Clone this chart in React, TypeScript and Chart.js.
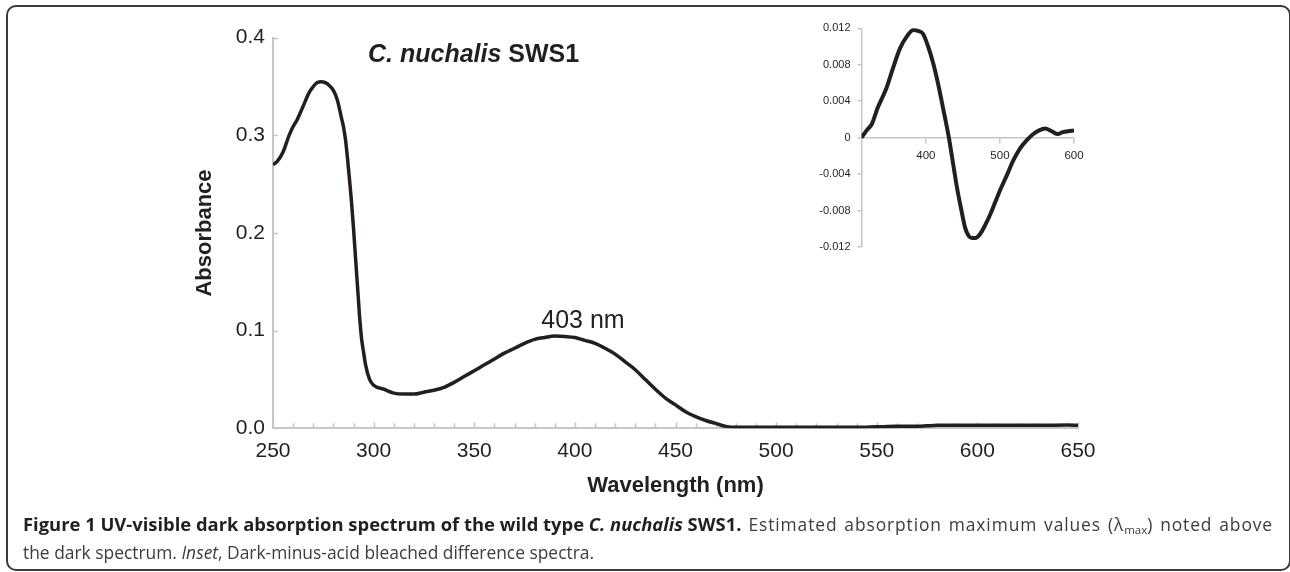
import React, { useEffect, useRef } from 'react';
import { Chart, registerables } from 'chart.js';

Chart.register(...registerables);

// ---- Main spectrum (dark absorption) ----
const wavelengths = [
  250, 252, 255, 258, 260, 262, 265, 268, 270, 272, 274, 276, 278, 280, 282, 284, 285, 286, 287, 288,
  289, 290, 291, 292, 293, 294, 295, 296, 298, 300, 305, 310, 315, 320, 325, 330, 335, 340, 345, 350,
  355, 360, 365, 370, 375, 380, 385, 390, 395, 400, 405, 410, 415, 420, 425, 430, 435, 440, 445, 450,
  455, 460, 465, 470, 475, 480, 490, 500, 520, 540, 550, 560, 570, 575, 580, 600, 625, 645, 650,
];
const absorbance = [
  0.270, 0.273, 0.283, 0.300, 0.309, 0.316, 0.330, 0.344, 0.350, 0.354, 0.355, 0.354, 0.351, 0.346, 0.336, 0.318, 0.309, 0.296, 0.277, 0.255,
  0.232, 0.205, 0.175, 0.145, 0.115, 0.092, 0.078, 0.065, 0.050, 0.044, 0.040, 0.036, 0.035, 0.035, 0.037, 0.039, 0.042, 0.047, 0.053, 0.059,
  0.065, 0.071, 0.077, 0.082, 0.087, 0.091, 0.093, 0.0945, 0.094, 0.093, 0.090, 0.087, 0.082, 0.076, 0.068, 0.060, 0.050, 0.040, 0.031, 0.024,
  0.017, 0.012, 0.008, 0.005, 0.002, 0.001, 0.001, 0.001, 0.001, 0.001, 0.0015, 0.002, 0.002, 0.0025, 0.003, 0.003, 0.003, 0.0035, 0.003,
];
const xTickValues = [250, 300, 350, 400, 450, 500, 550, 600, 650];
const yTickValues = [0, 0.1, 0.2, 0.3, 0.4];
const peakLabel = '403 nm';
const peakLabelAt = [404, 0.103];
const titleItalic = 'C. nuchalis';
const titleRest = ' SWS1';

// ---- Inset (dark-minus-acid bleached difference) ----
const insetWavelengths = [
  313, 320, 327, 335, 340, 347, 355, 365, 375, 383, 390, 396, 403, 410, 417, 423, 431, 437, 442, 448,
  453, 458, 462, 467, 473, 480, 487, 493, 500, 510, 518, 527, 536, 545, 553, 561, 570, 578, 585, 592, 600,
];
const insetDifference = [
  0.0, 0.0008, 0.0015, 0.0033, 0.0042, 0.0055, 0.0075, 0.0098, 0.0112, 0.0118, 0.0117, 0.0114, 0.0100, 0.0081, 0.0057, 0.0033, 0.0, -0.0030, -0.0055, -0.0080,
  -0.0099, -0.0108, -0.0110, -0.0110, -0.0106, -0.0096, -0.0084, -0.0072, -0.0058, -0.0040, -0.0025, -0.0012, -0.0003, 0.0004, 0.0008, 0.0010, 0.0007, 0.0004, 0.0006, 0.0007, 0.0008,
];
const insetXTicks = [400, 500, 600];
const insetYTicks = [-0.012, -0.008, -0.004, 0, 0.004, 0.008, 0.012];

const TEXT = '#231f20';
const AXIS = '#c6c6c6';
const LINE = '#231f20';
const FONT = '"Liberation Sans", Arial, Helvetica, sans-serif';

const mainDecor = {
  id: 'mainDecor',
  beforeDatasetsDraw(chart: any) {
    const { ctx, chartArea, scales } = chart;
    const xs = scales.x;
    const ys = scales.y;
    ctx.save();
    ctx.strokeStyle = AXIS;
    ctx.lineWidth = 1.5;
    for (let v = xTickValues[0]; v <= xTickValues[xTickValues.length - 1]; v += 10) {
      const px = Math.round(xs.getPixelForValue(v)) + 0.5;
      ctx.beginPath();
      ctx.moveTo(px, chartArea.bottom);
      ctx.lineTo(px, chartArea.bottom - (v % 50 === 0 ? 6 : 5));
      ctx.stroke();
    }
    for (const v of yTickValues) {
      const py = Math.round(ys.getPixelForValue(v)) + 0.5;
      ctx.beginPath();
      ctx.moveTo(chartArea.left, py);
      ctx.lineTo(chartArea.left + 5, py);
      ctx.stroke();
    }
    ctx.restore();
  },
  afterDraw(chart: any) {
    const { ctx, chartArea, scales } = chart;
    ctx.save();
    ctx.fillStyle = TEXT;
    ctx.textBaseline = 'alphabetic';
    ctx.textAlign = 'center';
    ctx.font = `25px ${FONT}`;
    ctx.fillText(peakLabel, scales.x.getPixelForValue(peakLabelAt[0]), scales.y.getPixelForValue(peakLabelAt[1]));
    // title
    ctx.textAlign = 'left';
    const tx = chartArea.left + 95;
    const ty = chartArea.top + 24;
    ctx.font = `italic bold 25px ${FONT}`;
    ctx.fillText(titleItalic, tx, ty);
    const w = ctx.measureText(titleItalic).width;
    ctx.font = `bold 25px ${FONT}`;
    ctx.fillText(titleRest, tx + w, ty);
    ctx.restore();
  },
};

export default function App() {
  const mainRef = useRef<HTMLCanvasElement>(null);
  const insetRef = useRef<HTMLCanvasElement>(null);

  useEffect(() => {
    const main = new Chart(mainRef.current!, {
      type: 'line',
      data: {
        datasets: [
          {
            data: wavelengths.map((w, i) => ({ x: w, y: absorbance[i] })),
            borderColor: LINE,
            borderWidth: 3.5,
            pointRadius: 0,
            cubicInterpolationMode: 'monotone',
            fill: false,
          },
        ],
      },
      options: {
        animation: false,
        responsive: false,
        maintainAspectRatio: false,
        layout: { padding: { left: 173, top: 37.7, right: 212, bottom: 11.7 } },
        plugins: { legend: { display: false }, tooltip: { enabled: false } },
        scales: {
          x: {
            type: 'linear',
            min: 250,
            max: 650,
            afterBuildTicks: (s: any) => {
              s.ticks = xTickValues.map((v) => ({ value: v }));
            },
            afterFit: (s: any) => {
              s.height = 80;
            },
            grid: { display: false, drawTicks: false },
            border: { display: true, color: AXIS, width: 2 },
            ticks: { font: { family: FONT, size: 21 }, color: TEXT, padding: 10, maxRotation: 0 },
            title: {
              display: true,
              text: 'Wavelength (nm)',
              font: { family: FONT, size: 22, weight: 'bold' },
              color: TEXT,
              padding: { top: 0, bottom: 9 },
            },
          },
          y: {
            type: 'linear',
            min: 0,
            max: 0.4,
            afterBuildTicks: (s: any) => {
              s.ticks = yTickValues.map((v) => ({ value: v }));
            },
            afterFit: (s: any) => {
              s.width = 100;
            },
            grid: { display: false, drawTicks: false },
            border: { display: true, color: AXIS, width: 2 },
            ticks: {
              font: { family: FONT, size: 21 },
              color: TEXT,
              padding: 8,
              callback: (v: any) => Number(v).toFixed(1),
            },
            title: {
              display: true,
              text: 'Absorbance',
              font: { family: FONT, size: 22, weight: 'bold' },
              color: TEXT,
              padding: { top: 19, bottom: 0 },
            },
          },
        },
      },
      plugins: [mainDecor],
    } as any);

    const inset = new Chart(insetRef.current!, {
      type: 'line',
      data: {
        datasets: [
          {
            data: insetWavelengths.map((w, i) => ({ x: w, y: insetDifference[i] })),
            borderColor: LINE,
            borderWidth: 4,
            pointRadius: 0,
            cubicInterpolationMode: 'monotone',
            fill: false,
          },
        ],
      },
      options: {
        animation: false,
        responsive: false,
        maintainAspectRatio: false,
        layout: { padding: { left: 0, top: 18.3, right: 36, bottom: 23 } },
        plugins: { legend: { display: false }, tooltip: { enabled: false } },
        scales: {
          x: {
            type: 'linear',
            min: 313,
            max: 600,
            position: { y: 0 },
            afterBuildTicks: (s: any) => {
              s.ticks = insetXTicks.map((v) => ({ value: v }));
            },
            grid: { display: true, drawOnChartArea: false, drawTicks: true, tickLength: 5, color: AXIS, lineWidth: 1.5 },
            border: { display: true, color: AXIS, width: 1.5 },
            ticks: { font: { family: FONT, size: 11.5 }, color: TEXT, padding: 6, maxRotation: 0 },
          },
          y: {
            type: 'linear',
            min: -0.012,
            max: 0.012,
            afterBuildTicks: (s: any) => {
              s.ticks = insetYTicks.map((v) => ({ value: v }));
            },
            afterFit: (s: any) => {
              s.width = 81.5;
            },
            grid: { display: true, drawOnChartArea: false, drawTicks: true, tickLength: 4, color: AXIS, lineWidth: 1.5 },
            border: { display: true, color: AXIS, width: 1.5 },
            ticks: {
              font: { family: FONT, size: 11 },
              color: TEXT,
              padding: 7,
              callback: (v: any) => (Math.abs(Number(v)) < 1e-9 ? '0' : Number(v).toFixed(3)),
            },
          },
        },
      },
    } as any);

    return () => {
      main.destroy();
      inset.destroy();
    };
  }, []);

  const captionBase: React.CSSProperties = {
    fontFamily: '"Open Sans", sans-serif',
    fontSize: 17.4,
    lineHeight: '28px',
    color: '#3c3c3c',
    whiteSpace: 'nowrap',
  };

  return (
    <div style={{ position: 'absolute', left: 0, top: 0, width: 1290, height: 572, background: '#fff', overflow: 'hidden' }}>
      <div
        style={{
          position: 'absolute',
          left: 6,
          top: 5,
          width: 1285,
          height: 566,
          boxSizing: 'border-box',
          border: '2px solid #3a3a3a',
          borderRadius: 10,
        }}
      />
      <canvas ref={mainRef} width={1290} height={520} style={{ position: 'absolute', left: 0, top: 0, width: 1290, height: 520 }} />
      <canvas
        ref={insetRef}
        width={330}
        height={260}
        style={{ position: 'absolute', left: 780, top: 10, width: 330, height: 260, pointerEvents: 'none' }}
      />
      <div style={{ position: 'absolute', left: 23, top: 510, width: 1250 }}>
        <div style={{ ...captionBase, display: 'flex', height: 28 }}>
          <b style={{ color: TEXT, fontSize: 18.4, whiteSpace: 'nowrap' }}>
            Figure 1 UV-visible dark absorption spectrum of the wild type <i>C. nuchalis</i> SWS1.
          </b>
          <div
            style={{
              flex: 1,
              marginLeft: 7,
              whiteSpace: 'normal',
              textAlign: 'justify',
              textAlignLast: 'justify',
              letterSpacing: 0.9,
            }}
          >
            Estimated absorption maximum values (λ
            <sub style={{ fontSize: 11.5, verticalAlign: '-3px', lineHeight: 0, letterSpacing: 0 }}>max</sub>) noted above
          </div>
        </div>
        <div style={captionBase}>
          the dark spectrum. <i>Inset</i>, Dark-minus-acid bleached difference spectra.
        </div>
      </div>
    </div>
  );
}
